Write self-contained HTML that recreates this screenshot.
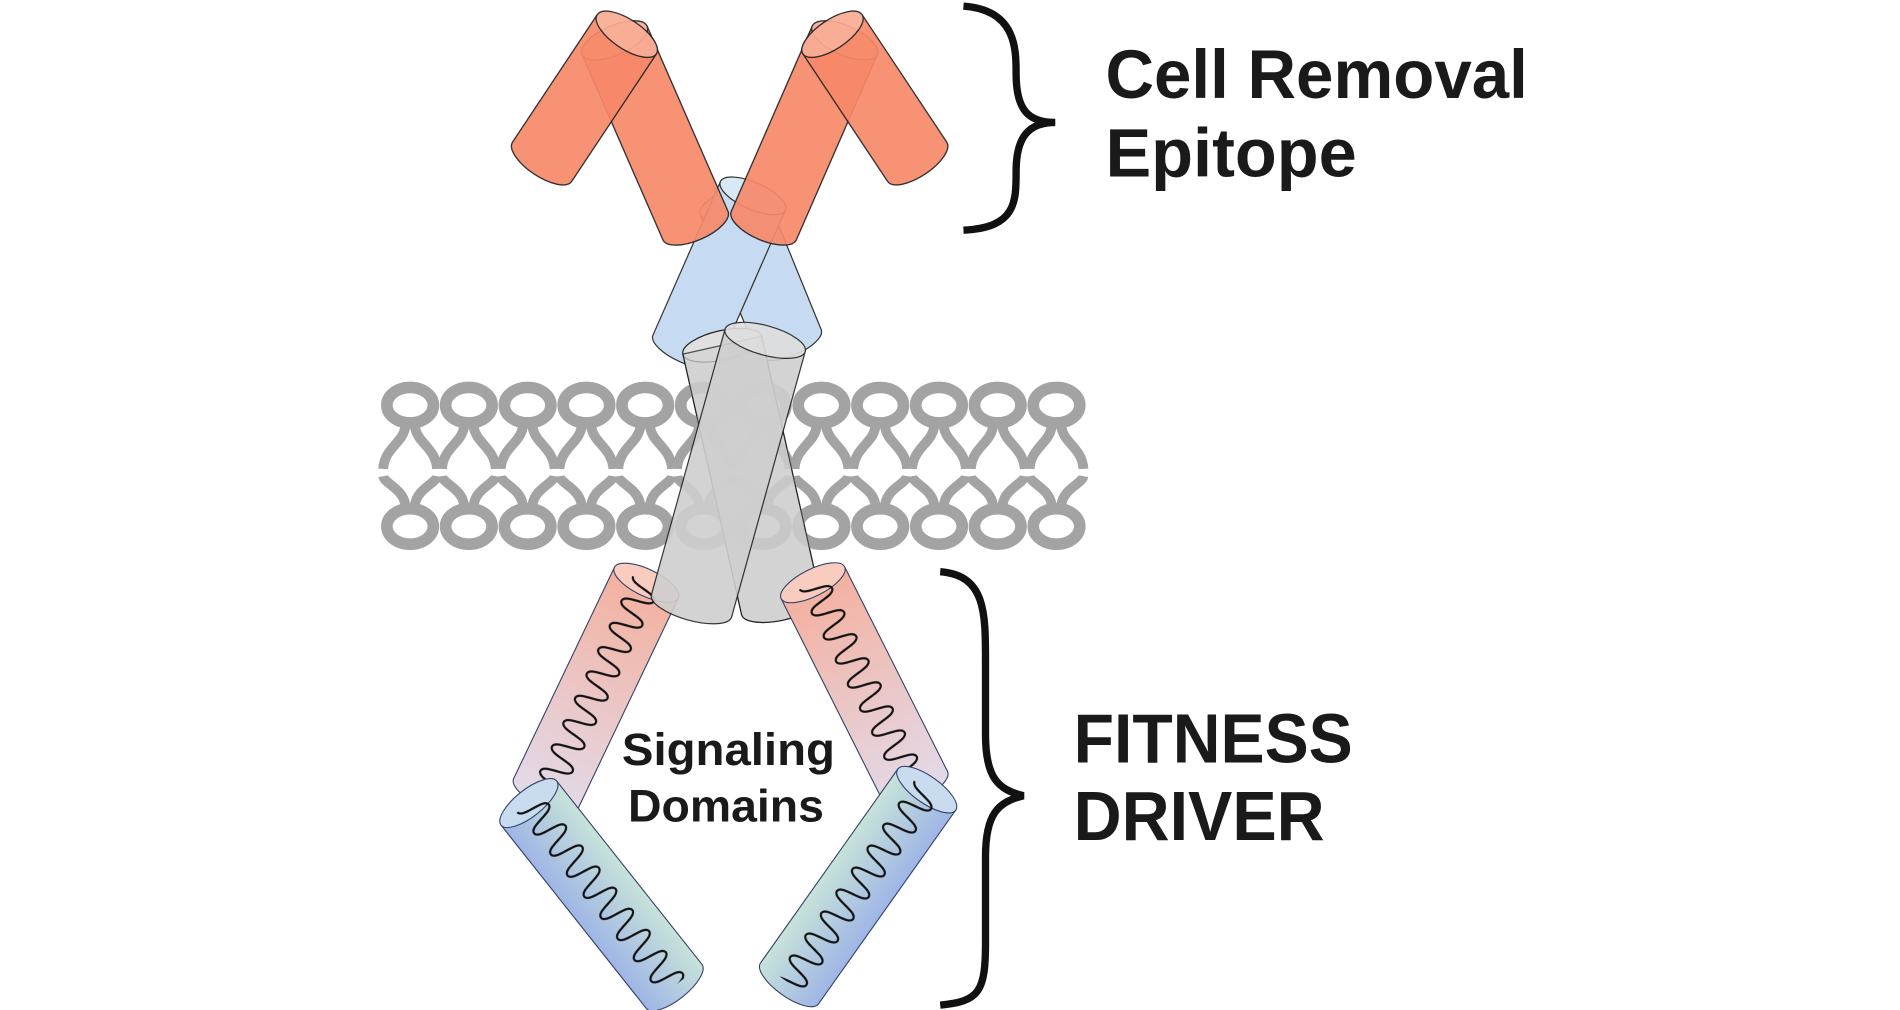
<!DOCTYPE html>
<html><head><meta charset="utf-8"><style>html,body{margin:0;padding:0;background:#fff;width:1900px;height:1010px;overflow:hidden}svg{display:block}</style></head>
<body>
<svg width="1900" height="1010" viewBox="0 0 1552 825" preserveAspectRatio="none" xmlns="http://www.w3.org/2000/svg">
<defs>
<pattern id="wave" patternUnits="userSpaceOnUse" x="-16" y="0" width="32" height="22">
<path d="M4,0 C4,7 28,4 28,11 C28,18 4,15 4,22" fill="none" stroke="#111" stroke-width="1.8"/>
</pattern>
<linearGradient id="pink" x1="0" y1="0" x2="0" y2="1">
<stop offset="0" stop-color="#f4b09e"/><stop offset="1" stop-color="#e2dbea"/></linearGradient>
<linearGradient id="blu" x1="0" y1="0" x2="1" y2="0">
<stop offset="0" stop-color="#9fb5e6"/><stop offset="1" stop-color="#c7e3d9"/></linearGradient>
<linearGradient id="blu2" x1="0" y1="0" x2="1" y2="0">
<stop offset="0" stop-color="#c7e3d9"/><stop offset="1" stop-color="#9fb5e6"/></linearGradient>
<path id="tails" d="M331,349 C329,362 314,366 313,383 M339,349 C341,362 356,366 357,383 M331,412 C329,399 314,395 313,389 M339,412 C341,399 356,395 357,389"/>
</defs>

<path d="M787,5 C830,8 830,40 830,60 C830,90 840,100 862,100 C840,100 830,112 830,140 C830,165 830,186 787,188" fill="none" stroke="#111" stroke-width="6"/>
<path d="M768,467 C805,470 805,500 805,540 L805,600 C805,635 815,645 836,650 C815,655 805,665 805,700 L805,770 C805,810 800,818 768,821" fill="none" stroke="#111" stroke-width="6"/>

<g stroke="#333" stroke-width="1">
<g transform="translate(598,165) rotate(-22.2)"><path d="M-28,0 L-28,124 A28,11 0 0 0 28,124 L28,0 Z" fill="#c6dbf1"/><ellipse cx="0" cy="0" rx="28" ry="11" fill="#d9e8f7"/></g>
<g transform="translate(615,160) rotate(23.7)"><path d="M-29,0 L-29,137 A29,11 0 0 0 29,137 L29,0 Z" fill="#c6dbf1"/><ellipse cx="0" cy="0" rx="29" ry="11" fill="#d9e8f7"/></g>
</g>

<g stroke="#222" stroke-width="1.1">
<g transform="translate(502,33) rotate(-23.6)" opacity="0.92"><path d="M-29,0 L-29,165 A29,12 0 0 0 29,165 L29,0 Z" fill="#f7896a"/><ellipse cx="0" cy="0" rx="29" ry="12" fill="#f9ad95"/></g>
<g transform="translate(690,33) rotate(23.6)" opacity="0.92"><path d="M-29,0 L-29,165 A29,12 0 0 0 29,165 L29,0 Z" fill="#f7896a"/><ellipse cx="0" cy="0" rx="29" ry="12" fill="#f9ad95"/></g>
<g transform="translate(512,28) rotate(33.6)" opacity="0.92"><path d="M-29,0 L-29,125 A29,12 0 0 0 29,125 L29,0 Z" fill="#f7896a"/><ellipse cx="0" cy="0" rx="29" ry="12" fill="#f9ad95"/></g>
<g transform="translate(680,28) rotate(-33.6)" opacity="0.92"><path d="M-29,0 L-29,125 A29,12 0 0 0 29,125 L29,0 Z" fill="#f7896a"/><ellipse cx="0" cy="0" rx="29" ry="12" fill="#f9ad95"/></g>
</g>

<g transform="translate(590,282) rotate(-12.7)" stroke="#222" stroke-width="1"><path d="M-33,0 L-33,218 A33,12 0 0 0 33,218 L33,0 Z" fill="#d3d3d3"/><ellipse cx="0" cy="0" rx="33" ry="12" fill="#e0e0e0"/></g>

<g fill="none" stroke="#a3a3a3">
<g stroke-width="9.5">
<ellipse cx="335" cy="331" rx="19" ry="14.5"/><ellipse cx="383" cy="331" rx="19" ry="14.5"/><ellipse cx="431" cy="331" rx="19" ry="14.5"/><ellipse cx="479" cy="331" rx="19" ry="14.5"/><ellipse cx="527" cy="331" rx="19" ry="14.5"/><ellipse cx="575" cy="331" rx="19" ry="14.5"/><ellipse cx="623" cy="331" rx="19" ry="14.5"/><ellipse cx="671" cy="331" rx="19" ry="14.5"/><ellipse cx="719" cy="331" rx="19" ry="14.5"/><ellipse cx="767" cy="331" rx="19" ry="14.5"/><ellipse cx="815" cy="331" rx="19" ry="14.5"/><ellipse cx="863" cy="331" rx="19" ry="14.5"/>
<ellipse cx="335" cy="430" rx="19" ry="14.5"/><ellipse cx="383" cy="430" rx="19" ry="14.5"/><ellipse cx="431" cy="430" rx="19" ry="14.5"/><ellipse cx="479" cy="430" rx="19" ry="14.5"/><ellipse cx="527" cy="430" rx="19" ry="14.5"/><ellipse cx="575" cy="430" rx="19" ry="14.5"/><ellipse cx="623" cy="430" rx="19" ry="14.5"/><ellipse cx="671" cy="430" rx="19" ry="14.5"/><ellipse cx="719" cy="430" rx="19" ry="14.5"/><ellipse cx="767" cy="430" rx="19" ry="14.5"/><ellipse cx="815" cy="430" rx="19" ry="14.5"/><ellipse cx="863" cy="430" rx="19" ry="14.5"/>
</g>
<g stroke-width="8">
<use href="#tails"/><use href="#tails" x="48"/><use href="#tails" x="96"/><use href="#tails" x="144"/><use href="#tails" x="192"/><use href="#tails" x="240"/><use href="#tails" x="288"/><use href="#tails" x="336"/><use href="#tails" x="384"/><use href="#tails" x="432"/><use href="#tails" x="480"/><use href="#tails" x="528"/>
</g>
</g>

<g transform="translate(590,282) rotate(-12.7)" stroke="#222" stroke-width="1" opacity="0.75"><path d="M-33,0 L-33,218 A33,12 0 0 0 33,218 L33,0 Z" fill="#d3d3d3"/></g>

<g stroke="#34406a" stroke-width="0.9">
<g transform="translate(528,476) rotate(25.5)"><path d="M-29,0 L-29,191 A29,11 0 0 0 29,191 L29,0 Z" fill="url(#pink)"/><ellipse cx="0" cy="0" rx="29" ry="11" fill="#f8cdc0"/><rect x="-16" y="0" width="32" height="191" fill="url(#wave)" stroke="none"/></g>
<g transform="translate(664,476) rotate(-26.7)"><path d="M-29,0 L-29,187 A29,11 0 0 0 29,187 L29,0 Z" fill="url(#pink)"/><ellipse cx="0" cy="0" rx="29" ry="11" fill="#f8cdc0"/><rect x="-16" y="0" width="32" height="187" fill="url(#wave)" stroke="none"/></g>
<g transform="translate(432,656) rotate(-38.4)"><path d="M-29,0 L-29,191 A29,11 0 0 0 29,191 L29,0 Z" fill="url(#blu)"/><ellipse cx="0" cy="0" rx="29" ry="11" fill="#c9dcef"/><rect x="-16" y="0" width="32" height="191" fill="url(#wave)" stroke="none"/></g>
<g transform="translate(757,645) rotate(35.3)"><path d="M-29,0 L-29,194 A29,11 0 0 0 29,194 L29,0 Z" fill="url(#blu2)"/><ellipse cx="0" cy="0" rx="29" ry="11" fill="#c9dcef"/><rect x="-16" y="0" width="32" height="194" fill="url(#wave)" stroke="none"/></g>
</g>

<g transform="translate(625,278) rotate(15.5)" stroke="#222" stroke-width="1" opacity="0.9"><path d="M-34,0 L-34,225 A34,12 0 0 0 34,225 L34,0 Z" fill="#cfcfcf"/><ellipse cx="0" cy="0" rx="34" ry="12" fill="#dedede"/></g>

<g font-family="Liberation Sans, Arial, sans-serif" font-weight="bold" fill="#1a1a1a">
<text x="903" y="80" font-size="56" textLength="345" lengthAdjust="spacingAndGlyphs">Cell Removal</text>
<text x="903" y="144" font-size="56">Epitope</text>
<text x="877" y="623" font-size="57" textLength="228" lengthAdjust="spacingAndGlyphs">FITNESS</text>
<text x="877" y="686" font-size="57" textLength="205" lengthAdjust="spacingAndGlyphs">DRIVER</text>
<text x="508" y="625" font-size="37" textLength="174" lengthAdjust="spacingAndGlyphs">Signaling</text>
<text x="513" y="671" font-size="37" textLength="160" lengthAdjust="spacingAndGlyphs">Domains</text>
</g>
</svg>
</body></html>
